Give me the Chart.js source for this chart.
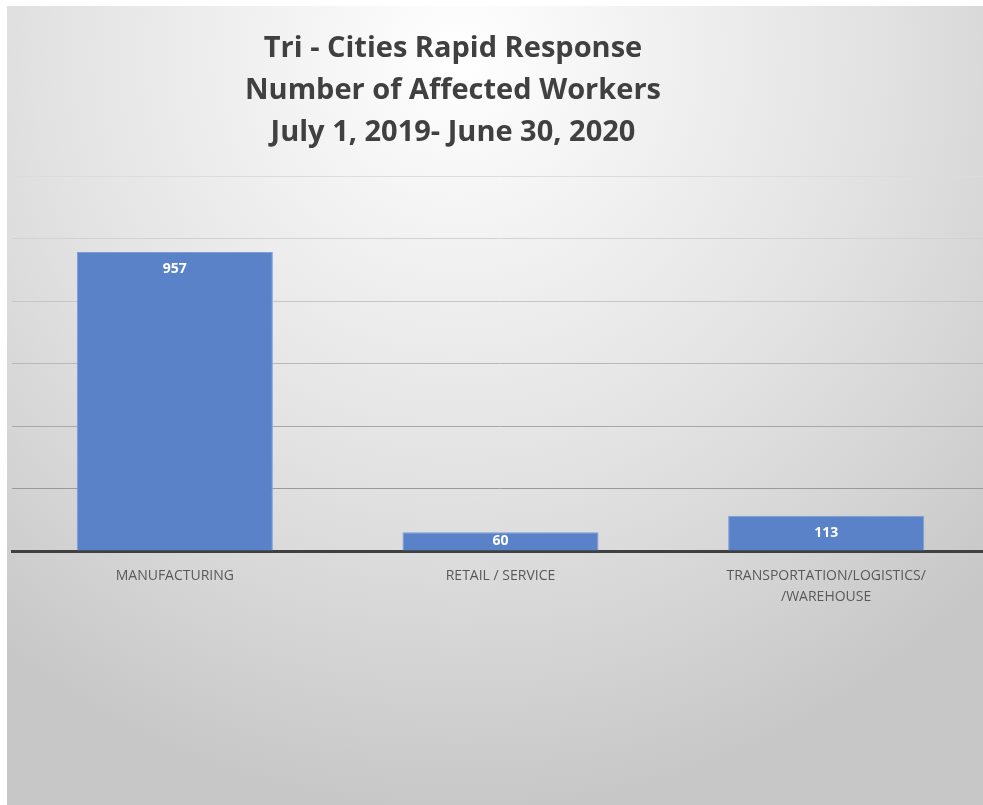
<!DOCTYPE html>
<html>
<head>
  <meta charset="UTF-8">
  <title>Tri - Cities Rapid Response</title>
  <script src="https://cdn.jsdelivr.net/npm/chart.js"></script>
  <style>
    body { margin: 0; background: #fff; overflow: hidden; }
    .chart_box {
      position: absolute; left: 7px; top: 6px; width: 982px; height: 799px;
      background: radial-gradient(ellipse 75% 95% at 46% 6%, #ffffff 0%, #f2f2f2 25%, #e3e3e3 55%, #d4d4d4 80%, #c7c7c7 100%);
    }
  </style>
</head>
<body>
  <div class="chart_box">
    <canvas id="myChart"></canvas>
  </div>
  <script>
    const titleLines = ['Tri - Cities Rapid Response', 'Number of Affected Workers', 'July 1, 2019- June 30, 2020'];
    const categories = ['MANUFACTURING', 'RETAIL / SERVICE', ['TRANSPORTATION/LOGISTICS/', '/WAREHOUSE']];
    const workers = [957, 60, 113];
    const yMax = 1200;
    const yStep = 200;

    const fontFam = '"Open Sans", sans-serif';

    // gridlines get darker towards the bottom like the picture
    const gridColors = { 200: '#9a9a9a', 400: '#a8a8a8', 600: '#b8b8b8', 800: '#c6c6c6', 1000: '#d2d2d2', 1200: '#dcdcdc' };

    const titlePlugin = {
      id: 'titleLines',
      afterDraw(chart) {
        const c = chart.ctx;
        c.save();
        c.fillStyle = '#404040';
        c.font = 'bold 29px ' + fontFam;
        c.textAlign = 'center';
        c.textBaseline = 'middle';
        titleLines.forEach((t, i) => c.fillText(t, 446, 43 + i * 42));
        c.restore();
      }
    };

    const valuePlugin = {
      id: 'barValues',
      afterDatasetsDraw(chart) {
        const c = chart.ctx;
        const meta = chart.getDatasetMeta(0);
        c.save();
        c.fillStyle = '#ffffff';
        c.font = 'bold 14px ' + fontFam;
        c.textAlign = 'center';
        c.textBaseline = 'middle';
        meta.data.forEach((bar, i) => {
          const y = Math.min(bar.y + 17, (bar.y + bar.base) / 2);
          c.fillText(workers[i], bar.x, y);
        });
        c.restore();
      }
    };

    var ctx = document.getElementById('myChart').getContext('2d');
    var chart = new Chart(ctx, {
      type: 'bar',
      data: {
        labels: categories,
        datasets: [{
          label: 'Affected Workers',
          data: workers,
          backgroundColor: '#5a82c9',
          borderColor: '#7d9dd8',
          borderWidth: 1,
          categoryPercentage: 1,
          barPercentage: 0.602
        }]
      },
      options: {
        responsive: true,
        maintainAspectRatio: false,
        animation: false,
        layout: { padding: { top: 170, left: 5, right: 0, bottom: 0 } },
        plugins: {
          legend: { display: false },
          title: { display: false },
          tooltip: { enabled: false }
        },
        scales: {
          x: {
            grid: { display: false, drawTicks: false },
            border: { color: '#404040', width: 3 },
            ticks: {
              color: '#595959',
              padding: 15,
              maxRotation: 0,
              autoSkip: false,
              font: { family: fontFam, size: 14, lineHeight: 1.5 }
            },
            afterFit(scale) { scale.height = 254; }
          },
          y: {
            min: 0,
            max: yMax,
            ticks: { display: false, stepSize: yStep },
            border: { display: false },
            grid: {
              drawTicks: false,
              color: (c) => gridColors[c.tick.value] || 'rgba(0,0,0,0)',
              lineWidth: 1
            }
          }
        }
      },
      plugins: [titlePlugin, valuePlugin]
    });
  </script>
</body>
</html>
